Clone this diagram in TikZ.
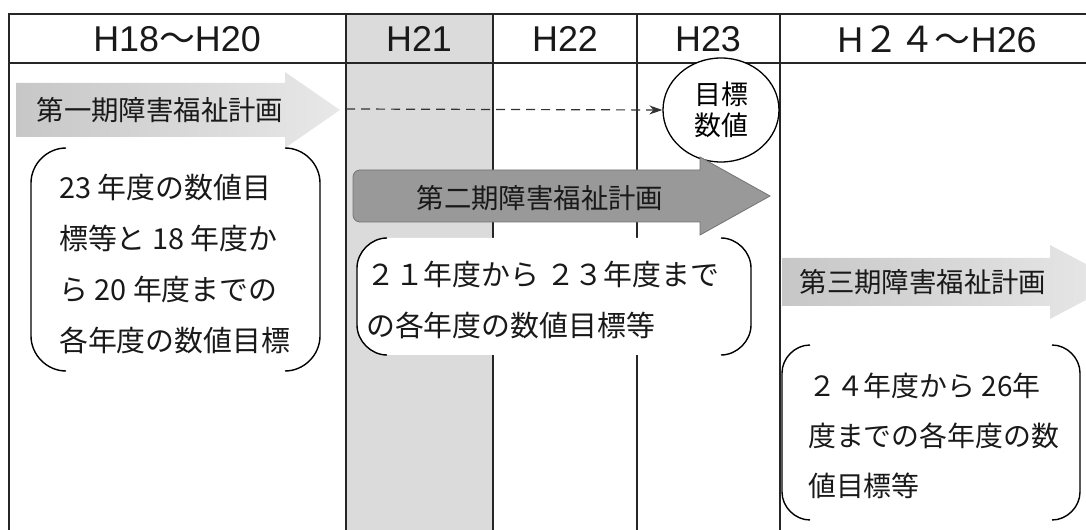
\documentclass[tikz,border=0pt]{standalone}
\usepackage{fontspec}
\setmainfont{Noto Sans CJK JP}
\newfontfamily\latinhead{Liberation Sans}
\usetikzlibrary{arrows.meta,shapes.geometric}
\begin{document}
\begin{tikzpicture}[x=1bp,y=-1bp,
  tline/.style={draw=black!85, line width=1.2bp},
  colfill/.style={fill=black!14},
  lightarrow/.style={left color=black!22, right color=black!9, draw=none},
  darkarrow/.style={fill=black!40, draw=black!55, line width=0.8bp},
  bracket/.style={draw=black, line width=1.4bp},
  headtxt/.style={font=\fontsize{36}{40}\selectfont, text=black!90, inner sep=0},
  lbl/.style={font=\fontsize{27.5}{32}\selectfont, text=black!90, inner sep=0},
  boxtext/.style={font=\fontsize{29}{51}\selectfont, align=left, anchor=west, inner sep=0, text=black!90},
  goalstyle/.style={ellipse, draw=black, line width=1.3bp, fill=white, minimum width=116bp, minimum height=104bp, inner sep=0, align=center, font=\fontsize{27}{31}\selectfont},
  dasharrow/.style={draw=black!80, line width=1.2bp, dash pattern=on 9bp off 6bp, -{Stealth[length=13bp,width=9bp]}},
]
\path[use as bounding box] (0,0) rectangle (1086,530);
\clip (0,0) rectangle (1086,530);

% shaded H21 column
\fill[colfill] (346,14) rectangle (493,530);

% table grid
\draw[tline] (9,530) -- (9,14) -- (1086,14);
\draw[tline] (9,63) -- (1086,63);
\draw[tline] (346,14) -- (346,530);
\draw[tline] (493,14) -- (493,530);
\draw[tline] (637,14) -- (637,530);
\draw[tline] (780,14) -- (780,530);

% headers
\node[headtxt] (h1) at (177,39) {{\latinhead H18}～{\latinhead H20}};
\node[headtxt] (h2) at (419,39) {\latinhead H21};
\node[headtxt] (h3) at (565,39) {\latinhead H22};
\node[headtxt] (h4) at (708,39) {\latinhead H23};
\node[headtxt] (h5) at (937,39) {{\latinhead H}２４～{\latinhead H26}};

% first plan arrow
\path[lightarrow] (16,83) -- (285,83) -- (285,72) -- (340,110) -- (285,148) -- (285,137) -- (16,137) -- cycle;
\node[lbl] (p1) at (160,110) {第一期障害福祉計画};

% goal circle and dashed arrow
\node[goalstyle] (goal) at (721,110) {目標\\数値};
\coordinate (dstart) at (346,109);
\draw[dasharrow] (dstart) -- (goal.west);

% box 1
\draw[bracket] (66,148) .. controls (47,148) and (31,164) .. (31,183) -- (31,336) .. controls (31,355) and (47,371) .. (66,371);
\draw[bracket] (285,148) .. controls (304,148) and (320,164) .. (320,183) -- (320,336) .. controls (320,355) and (304,371) .. (285,371);
\node[boxtext] (t1) at (59,264) {23 年度の数値目\\標等と 18 年度か\\ら 20 年度までの\\各年度の数値目標};

% second plan arrow
\path[darkarrow] (500,170) -- (700,170) -- (700,157) -- (770,196) -- (700,235) -- (700,222) [rounded corners=7bp] -- (353,222) -- (353,170) [sharp corners] -- cycle;
\node[lbl] (p2) at (540,198) {第二期障害福祉計画};

% box 2
\fill[white] (387,238) .. controls (371,238) and (357,252) .. (357,268) -- (357,325) .. controls (357,341) and (371,355) .. (387,355) -- (721,355) .. controls (737,355) and (751,341) .. (751,325) -- (751,268) .. controls (751,252) and (737,238) .. (721,238) -- cycle;
\draw[bracket] (387,238) .. controls (371,238) and (357,252) .. (357,268) -- (357,325) .. controls (357,341) and (371,355) .. (387,355);
\draw[bracket] (721,238) .. controls (737,238) and (751,252) .. (751,268) -- (751,325) .. controls (751,341) and (737,355) .. (721,355);
\node[boxtext] (t2) at (366,300) {２１年度から ２３年度まで\\の各年度の数値目標等};

% third plan arrow
\path[lightarrow] (782,258) -- (1050,258) -- (1050,245) -- (1120,282) -- (1050,319) -- (1050,306) -- (782,306) -- cycle;
\node[lbl] (p3) at (923,282) {第三期障害福祉計画};

% box 3
\draw[bracket] (810,345) .. controls (795,345) and (782,358) .. (782,373) -- (782,492) .. controls (782,507) and (795,520) .. (810,520);
\draw[bracket] (1052,345) .. controls (1067,345) and (1080,358) .. (1080,373) -- (1080,492) .. controls (1080,507) and (1067,520) .. (1052,520);
\node[boxtext, font=\fontsize{28}{50}\selectfont] (t3) at (808,436) {２４年度から 26年\\度までの各年度の数\\値目標等};
\end{tikzpicture}
\end{document}
